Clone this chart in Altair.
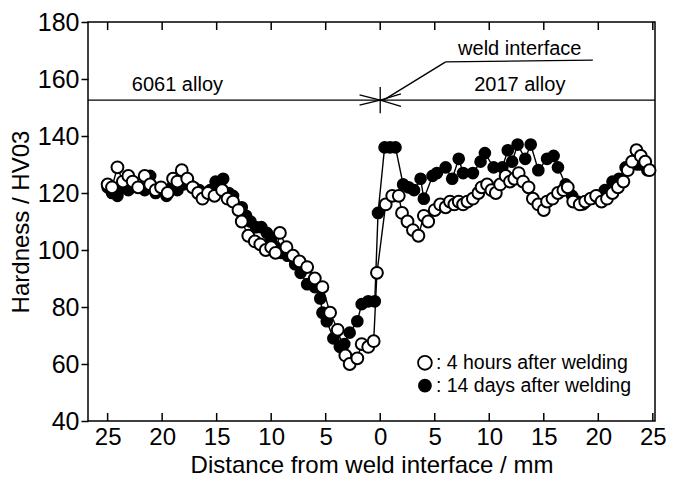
import altair as alt
import pandas as pd
import numpy as np

# ---- data ----
h4_x = [-25.0, -24.6, -24.1, -23.6, -23.1, -22.7, -22.2, -21.6, -21.1, -20.6,
        -20.1, -19.5, -19.0, -18.6, -18.2, -17.7, -17.2, -16.7, -16.3, -15.8,
        -15.2, -14.5, -14.0, -13.5, -13.0, -12.7, -12.1, -11.5, -11.0, -10.5,
        -10.0, -9.6, -9.2, -8.6, -8.0, -7.4, -6.7, -6.0, -5.3, -4.6,
        -3.9, -3.2, -2.8, -2.1, -1.7, -1.1, -0.6, -0.3, 0.5, 1.1,
        1.7, 2.0, 2.5, 3.0, 3.5, 4.0, 4.4, 5.0, 5.5, 6.0,
        6.4, 6.8, 7.2, 7.6, 8.0, 8.5, 9.0, 9.3, 9.8, 10.2,
        10.6, 11.0, 11.5, 11.9, 12.3, 12.7, 13.1, 13.6, 14.0, 14.5,
        15.0, 15.3, 15.8, 16.3, 16.8, 17.2, 17.7, 18.3, 18.8, 19.3,
        19.8, 20.3, 20.8, 21.3, 21.8, 22.3, 22.7, 23.1, 23.5, 23.9,
        24.3, 24.7]
h4_y = [123, 122, 129, 124, 126, 124, 122, 126, 123, 121,
        122, 120, 125, 124, 128, 125, 122, 120, 118, 120,
        119, 121, 118, 117, 114, 110, 105, 103, 102, 100,
        101, 99, 106, 101, 98, 96, 94, 90, 87, 78,
        72, 63, 60, 62, 67, 66, 68, 92, 116, 119,
        119, 113, 110, 107, 105, 112, 110, 114, 116, 115,
        117, 116, 117, 116, 117, 118, 120, 122, 123, 121,
        120, 123, 126, 124, 125, 127, 124, 122, 118, 116,
        114, 117, 118, 120, 121, 122, 117, 116, 117, 118,
        119, 117, 118, 120, 122, 124, 128, 131, 135, 133,
        131, 128]

d14_x = [-25.0, -24.6, -24.1, -23.6, -23.1, -22.6, -22.1, -21.6, -21.1, -20.6,
         -20.1, -19.6, -19.1, -18.6, -18.1, -17.6, -17.1, -16.6, -16.1, -15.6,
         -15.1, -14.7, -14.4, -13.9, -13.5, -12.7, -12.3, -11.9, -11.4, -10.9,
         -10.4, -10.0, -9.6, -9.1, -8.5, -7.8, -7.3, -6.7, -6.0, -5.5,
         -5.3, -4.9, -4.3, -3.7, -3.3, -2.8, -2.1, -1.7, -1.1, -0.5,
         -0.2, 0.4, 0.9, 1.4, 2.1, 2.6, 3.1, 3.7, 4.0, 4.8,
         5.2, 6.0, 6.6, 7.2, 7.6, 8.5, 9.2, 9.6, 10.4, 11.2,
         11.7, 12.1, 12.6, 13.3, 13.8, 14.5, 15.3, 15.9, 16.3, 17.0,
         17.6, 18.1, 18.6, 19.4, 20.0, 20.6, 21.3, 21.9, 22.5, 23.2,
         23.6, 24.0, 24.5]
d14_y = [122, 120, 119, 122, 121, 123, 122, 121, 126, 120,
         121, 119, 122, 121, 123, 124, 122, 121, 120, 121,
         124, 122, 125, 120, 119, 115, 112, 110, 108, 108,
         106, 104, 101, 99, 98, 95, 92, 88, 87, 83,
         78, 75, 69, 66, 67, 71, 75, 81, 82, 82,
         113, 136, 136, 136, 123, 122, 121, 125, 118, 126,
         127, 129, 125, 132, 127, 127, 131, 134, 129, 129,
         135, 131, 137, 132, 137, 128, 132, 133, 129, 123,
         119, 117, 116, 118, 119, 121, 124, 125, 129, 131,
         130, 130, 128]

tick_values = [-25, -20, -15, -10, -5, 0, 5, 10, 15, 20, 25]
y_ticks = [40, 60, 80, 100, 120, 140, 160, 180]

series_names = ["4 hours after welding", "14 days after welding"]

df4 = pd.DataFrame({"d": h4_x, "hv": h4_y})
df14 = pd.DataFrame({"d": d14_x, "hv": d14_y})

FONT = "Liberation Sans"
XDOM = [-26.8, 25.2]
YDOM = [40, 180]

xs = alt.Scale(domain=XDOM, nice=False, zero=False)
ys = alt.Scale(domain=YDOM, nice=False, zero=False)

X = alt.X("d:Q", scale=xs,
          axis=alt.Axis(values=tick_values, labelExpr="abs(datum.value)", ticks=False,
                        labelFontSize=24, labelPadding=4, labelFont=FONT, labelColor="black",
                        title="Distance from weld interface / mm", titleFontSize=24,
                        titleFont=FONT, titleFontWeight="normal", titleColor="black",
                        titlePadding=4, domain=False, grid=False))
Y = alt.Y("hv:Q", scale=ys,
          axis=alt.Axis(values=y_ticks, tickSize=7, tickColor="black", tickWidth=1.5,
                        labelFontSize=25, labelPadding=2, labelFont=FONT, labelColor="black",
                        title="Hardness / HV03", titleFontSize=24, titleFont=FONT,
                        titleFontWeight="normal", titleColor="black", titlePadding=4,
                        domain=False, grid=False))

line4 = alt.Chart(df4).mark_line(color="black", strokeWidth=1.4).encode(x=X, y=Y)
line14 = alt.Chart(df14).mark_line(color="black", strokeWidth=1.4).encode(x=X, y=Y)
pts14 = alt.Chart(df14).mark_point(shape="circle", filled=True, size=160, color="black",
                                   opacity=1).encode(x=X, y=Y)
pts4 = alt.Chart(df4).mark_point(shape="circle", filled=True, size=140, fill="white",
                                 stroke="black", strokeWidth=2, opacity=1).encode(x=X, y=Y)

# inward ticks on top and bottom frame
tick_len = 2.8
ticks_df = pd.DataFrame({
    "x": tick_values + tick_values,
    "y": [YDOM[0]] * len(tick_values) + [YDOM[1]] * len(tick_values),
    "y2": [YDOM[0] + tick_len] * len(tick_values) + [YDOM[1] - tick_len] * len(tick_values),
})
ticks = alt.Chart(ticks_df).mark_rule(color="black", strokeWidth=1.5).encode(
    x=alt.X("x:Q", scale=xs), y=alt.Y("y:Q", scale=ys), y2="y2:Q")

# annotation geometry (weld interface marker)
LINE_Y = 152.6
seg = pd.DataFrame([
    {"x": XDOM[0], "y": LINE_Y, "x2": XDOM[1], "y2": LINE_Y},
    {"x": 0.0, "y": 148.0, "x2": 0.0, "y2": 157.2},
    {"x": -1.9, "y": 154.4, "x2": 0.0, "y2": LINE_Y},
    {"x": -1.9, "y": 150.8, "x2": 0.0, "y2": LINE_Y},
    {"x": 1.9, "y": 154.8, "x2": 0.0, "y2": LINE_Y},
    {"x": 1.9, "y": 150.4, "x2": 0.0, "y2": LINE_Y},
    {"x": 6.0, "y": 166.0, "x2": 0.3, "y2": LINE_Y},
    {"x": 6.0, "y": 166.0, "x2": 19.5, "y2": 166.6},
])
segs = alt.Chart(seg).mark_rule(color="black", strokeWidth=1.3).encode(
    x=alt.X("x:Q", scale=xs), y=alt.Y("y:Q", scale=ys), x2="x2:Q", y2="y2:Q")

labels_df = pd.DataFrame({
    "x": [-18.6, 12.8, 12.8],
    "y": [157.9, 157.9, 170.6],
    "t": ["6061 alloy", "2017 alloy", "weld interface"],
})
labels = alt.Chart(labels_df).mark_text(font=FONT, fontSize=20, color="black",
                                        align="center", baseline="middle").encode(
    x=alt.X("x:Q", scale=xs), y=alt.Y("y:Q", scale=ys), text="t:N")

# legend drawn inside plot
leg_df = pd.DataFrame({"x": [4.1, 4.1], "y": [60.4, 52.4], "s": series_names})
leg_open = alt.Chart(leg_df.iloc[[0]]).mark_point(shape="circle", filled=True, size=190,
                                                  fill="white", stroke="black",
                                                  strokeWidth=1.8, opacity=1).encode(
    x=alt.X("x:Q", scale=xs), y=alt.Y("y:Q", scale=ys))
leg_fill = alt.Chart(leg_df.iloc[[1]]).mark_point(shape="circle", filled=True, size=190,
                                                  color="black", opacity=1).encode(
    x=alt.X("x:Q", scale=xs), y=alt.Y("y:Q", scale=ys))
leg_text = alt.Chart(leg_df).transform_calculate(lab="':  ' + datum.s").mark_text(
    font=FONT, fontSize=19.5, color="black", align="left", baseline="middle", dx=11).encode(
    x=alt.X("x:Q", scale=xs), y=alt.Y("y:Q", scale=ys), text="lab:N")

chart = alt.layer(ticks, segs, line4, line14, pts14, pts4, labels,
                  leg_open, leg_fill, leg_text).properties(
    width=567, height=399,
    padding={"left": 88, "top": 22, "right": 19, "bottom": 63},
    autosize=alt.AutoSizeParams(type="none"),
    background="white",
).configure_view(stroke="black", strokeWidth=1.5)

chart.save("out.html", embed_options={"renderer": "svg", "actions": False})
